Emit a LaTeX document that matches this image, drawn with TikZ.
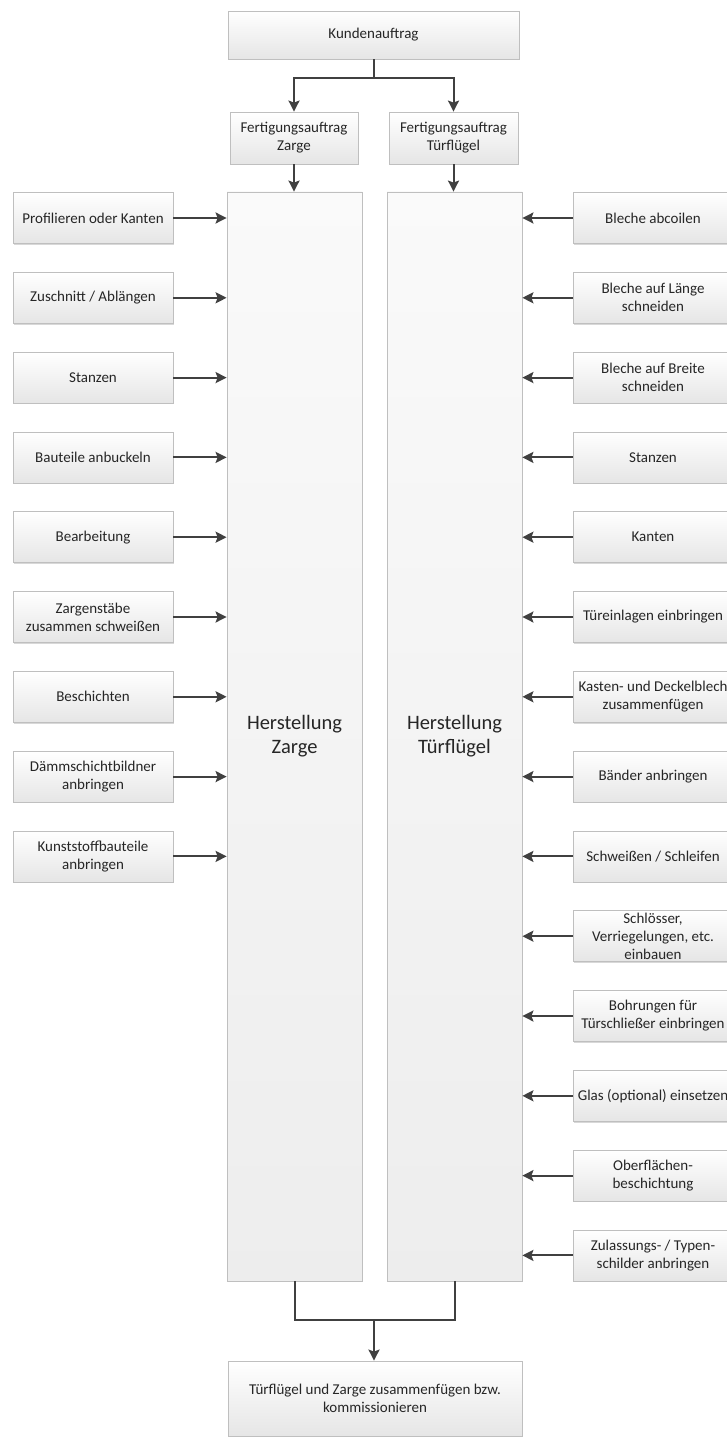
\documentclass[tikz,border=0pt]{standalone}
\usepackage{fontspec}
\setmainfont{Carlito}
\usetikzlibrary{arrows.meta,shadows,calc}
\definecolor{txt}{HTML}{262626}
\definecolor{bord}{HTML}{BFBFBF}
\definecolor{arrc}{HTML}{404040}
\tikzset{
  box/.style={draw=bord, line width=0.8pt, top color=white, bottom color=black!10,
    drop shadow={shadow xshift=1.2pt, shadow yshift=-1.2pt, opacity=0.25, fill=black!60},
    align=center, text=txt, font=\fontsize{15}{18}\selectfont, inner sep=2pt},
  bigbox/.style={box, top color=black!2, bottom color=black!7, font=\fontsize{20.5}{24}\selectfont},
  arr/.style={draw=arrc, line width=2pt, -{Stealth[length=11pt,width=11pt,inset=2pt]}},
  ln/.style={draw=arrc, line width=2pt},
}
\begin{document}
\begin{tikzpicture}[x=1pt,y=-1pt]
\useasboundingbox (0,0) rectangle (727,1439);
\clip (0,0) rectangle (727,1439);
\fill[white] (0,0) rectangle (727,1439);
% top
\node[box, minimum width=291pt, minimum height=48pt] (kunde) at (373.5,35) {Kundenauftrag};
\node[box, minimum width=128pt, minimum height=52pt] (fz) at (294,138) {Fertigungsauftrag\\Zarge};
\node[box, minimum width=129pt, minimum height=52pt] (ft) at (453.5,138) {Fertigungsauftrag\\Türflügel};
% big boxes
\node[bigbox, minimum width=135pt, minimum height=1089pt] (hz) at (294.5,736.5) {Herstellung\\Zarge};
\node[bigbox, minimum width=135pt, minimum height=1089pt] (ht) at (454.5,736.5) {Herstellung\\Türflügel};
% end
\node[box, minimum width=294pt, minimum height=75pt] (end) at (375,1398.5) {Türflügel und Zarge zusammenfügen bzw.\\kommissionieren};
% left boxes
\foreach \i/\t in {0/{Profilieren oder Kanten},1/{Zuschnitt / Ablängen},2/{Stanzen},3/{Bauteile anbuckeln},4/{Bearbeitung},5/{Zargenstäbe\\zusammen schweißen},6/{Beschichten},7/{Dämmschichtbildner\\anbringen},8/{Kunststoffbauteile\\anbringen}}{
  \node[box, minimum width=160pt, minimum height=51pt] (l\i) at (93,218+79.8*\i) {\t};
  \draw[arr] (l\i.east) -- (l\i.east -| hz.west);
}
% right boxes
\foreach \i/\t in {0/{Bleche abcoilen},1/{Bleche auf Länge\\schneiden},2/{Bleche auf Breite\\schneiden},3/{Stanzen},4/{Kanten},5/{Türeinlagen einbringen},6/{Kasten- und Deckelblech\\zusammenfügen},7/{Bänder anbringen},8/{Schweißen / Schleifen},9/{Schlösser,\\Verriegelungen, etc.\\einbauen},10/{Bohrungen für\\Türschließer einbringen},11/{Glas (optional) einsetzen},12/{Oberflächen-\\beschichtung},13/{Zulassungs- / Typen-\\schilder anbringen}}{
  \node[box, minimum width=160pt, minimum height=51pt] (r\i) at (653,218+79.8*\i) {\t};
  \draw[arr] (r\i.west) -- (r\i.west -| ht.east);
}
% connectors top
\coordinate (split) at (373.5,78);
\draw[ln] (kunde.south) -- (split);
\draw[arr] (split) -| (fz.north);
\draw[arr] (split) -| (ft.north);
\draw[arr] (fz.south) -- (fz.south |- hz.north);
\draw[arr] (ft.south) -- (ft.south |- ht.north);
% bottom
\coordinate (merge) at (374,1320);
\draw[ln] (hz.south) |- (merge) -| (ht.south);
\draw[arr] (merge) -- (merge |- end.north);
\end{tikzpicture}
\end{document}
